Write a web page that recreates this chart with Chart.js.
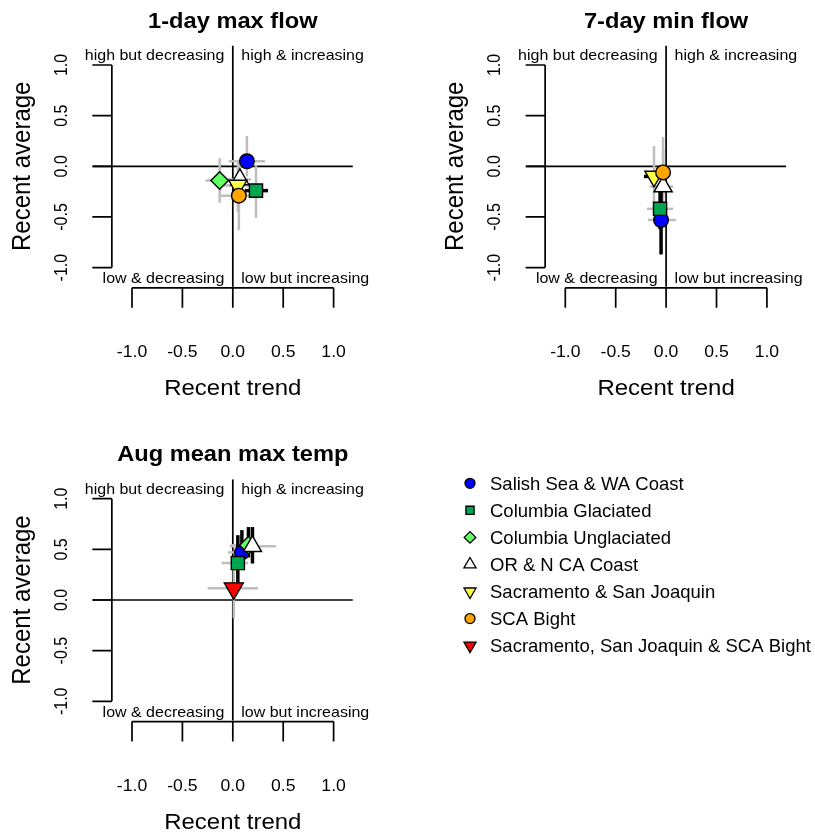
<!DOCTYPE html>
<html>
<head>
<meta charset="utf-8">
<script src="https://cdn.jsdelivr.net/npm/chart.js@4.4.1/dist/chart.umd.min.js"></script>
<style>
  html, body { margin: 0; padding: 0; background: #fff; }
  #wrap { position: relative; width: 815px; height: 833px; overflow: hidden; }
  canvas { position: absolute; }
</style>
</head>
<body>
<div id="wrap">
  <canvas id="p1" width="433" height="433" style="left:0;top:0"></canvas>
  <canvas id="p2" width="382" height="433" style="left:433px;top:0"></canvas>
  <canvas id="p3" width="815" height="400" style="left:0;top:433px"></canvas>
</div>
<script>
// regions (legend order = drawing order)
const regionNames = [
  "Salish Sea & WA Coast",
  "Columbia Glaciated",
  "Columbia Unglaciated",
  "OR & N CA Coast",
  "Sacramento & San Joaquin",
  "SCA Bight",
  "Sacramento, San Joaquin & SCA Bight",
];
const regionColors = ["#0000FF", "#00A550", "#66FF66", "#FFFFFF", "#FFFF44", "#FFA500", "#FF0000"];
const regionShapes = ["circle", "rect", "rectRot", "triangle", "triangle", "circle", "triangle"];
const regionRotation = [0, 0, 0, 0, 180, 0, 180];
const plotRadius = [7.3, 9.3, 8.8, 10.5, 10.5, 7.3, 11];
const legendRadius = [5, 5.8, 5.8, 7, 7, 5, 7];

const tickValues = [-1, -0.5, 0, 0.5, 1];
const tickLabels = ["-1.0", "-0.5", "0.0", "0.5", "1.0"];

// 1-day max flow
const maxFlowTrend   = [0.14, 0.23, -0.13, 0.07, 0.05, 0.06, null];
const maxFlowTrendLo = [-0.04, 0.12, -0.27, -0.05, -0.13, -0.14, null];
const maxFlowTrendHi = [0.32, 0.35, 0.00, 0.18, 0.20, 0.22, null];
const maxFlowAvg     = [0.05, -0.24, -0.14, -0.13, -0.19, -0.29, null];
const maxFlowAvgLo   = [-0.10, -0.51, -0.36, -0.30, -0.45, -0.63, null];
const maxFlowAvgHi   = [0.30, 0.01, 0.08, 0.02, 0.05, 0.03, null];

// 7-day min flow
const minFlowTrend   = [-0.05, -0.06, null, -0.03, -0.12, -0.03, null];
const minFlowTrendLo = [-0.18, -0.19, null, -0.16, -0.22, -0.10, null];
const minFlowTrendHi = [0.10, 0.07, null, 0.07, -0.05, 0.05, null];
const minFlowAvg     = [-0.53, -0.42, null, -0.20, -0.10, -0.06, null];
const minFlowAvgLo   = [-0.87, -0.62, null, -0.40, -0.35, -0.30, null];
const minFlowAvgHi   = [-0.25, -0.22, null, 0.16, 0.20, 0.29, null];

// Aug mean max temp
const augTempTrend   = [0.09, 0.05, 0.155, 0.195, null, null, 0.01];
const augTempTrendLo = [-0.05, -0.11, -0.02, -0.03, null, null, -0.25];
const augTempTrendHi = [0.14, 0.15, 0.25, 0.43, null, null, 0.25];
const augTempAvg     = [0.47, 0.365, 0.54, 0.53, null, null, 0.115];
const augTempAvgLo   = [0.30, 0.17, 0.42, 0.36, null, null, -0.18];
const augTempAvgHi   = [0.69, 0.64, 0.72, 0.72, null, null, 0.35];

// panel geometry (pixels inside a panel)
const X0 = 232.8, XS = 100.8, Y0 = 166.3, YS = 101.3;
const XMIN = -1.4, XMAX = 1.2, YMIN = -1.2, YMAX = 1.2;
const AXIS_POS = -1.2;
const FONT = '"Liberation Sans", Arial, sans-serif';

// text helper; sx widens glyphs a little like the original device did
function rText(ctx, str, x, y, font, align, angle, sx) {
  ctx.save();
  ctx.translate(x, y);
  ctx.scale(sx || 1, 1);
  if (angle) ctx.rotate(angle);
  ctx.font = font;
  ctx.textAlign = align;
  ctx.textBaseline = "alphabetic";
  ctx.fillText(str, 0, 0);
  ctx.restore();
}

function drawSymbol(ctx, i, x, y, r) {
  ctx.save();
  ctx.fillStyle = regionColors[i];
  ctx.strokeStyle = "#000";
  ctx.lineWidth = 1.3;
  const opts = { pointStyle: regionShapes[i], rotation: regionRotation[i], radius: r, borderWidth: 1.3 };
  Chart.helpers.drawPoint(ctx, opts, x, y);
  ctx.restore();
}

const rAxesPlugin = {
  id: "rAxes",
  afterDraw(chart, args, opts) {
    const ctx = chart.ctx;
    const px = (v) => chart.scales.x.getPixelForValue(v);
    const py = (v) => chart.scales.y.getPixelForValue(v);
    ctx.save();
    ctx.strokeStyle = "#000";
    ctx.fillStyle = "#000";
    ctx.lineWidth = 1.7;

    const ax = px(AXIS_POS);
    const ay = py(AXIS_POS);
    ctx.beginPath();
    ctx.moveTo(ax, py(-1));
    ctx.lineTo(ax, py(1));
    tickValues.forEach((v) => {
      ctx.moveTo(ax, py(v));
      ctx.lineTo(ax - 19.5, py(v));
    });
    ctx.moveTo(px(-1), ay);
    ctx.lineTo(px(1), ay);
    tickValues.forEach((v) => {
      ctx.moveTo(px(v), ay);
      ctx.lineTo(px(v), ay + 20);
    });
    ctx.stroke();

    tickValues.forEach((v, i) => {
      rText(ctx, tickLabels[i], ax - 44.8, py(v), "16px " + FONT, "center", -Math.PI / 2, 1.1);
      rText(ctx, tickLabels[i], px(v), ay + 69, "16px " + FONT, "center", 0, 1.1);
    });

    rText(ctx, "Recent trend", px(0), ay + 107, "21.8px " + FONT, "center", 0, 1.1);
    rText(ctx, "Recent average", ax - 81.8, py(0), "24px " + FONT, "center", -Math.PI / 2, 1.1);
    rText(ctx, opts.title, px(0), py(0) - 138.8, "bold 21.5px " + FONT, "center", 0, 1.1);

    const q = "14.8px " + FONT;
    rText(ctx, "high but decreasing", px(0) - 8.5, py(1.1) + 5.5, q, "right", 0, 1.08);
    rText(ctx, "high & increasing", px(0) + 8.5, py(1.1) + 5.5, q, "left", 0, 1.08);
    rText(ctx, "low & decreasing", px(0) - 8.5, py(-1.1) + 5.5, q, "right", 0, 1.08);
    rText(ctx, "low but increasing", px(0) + 8.5, py(-1.1) + 5.5, q, "left", 0, 1.08);

    if (opts.legend) {
      regionNames.forEach((name, i) => {
        const ly = opts.legendY + i * 27.05;
        drawSymbol(ctx, i, opts.legendX, ly, legendRadius[i]);
        ctx.fillStyle = "#000";
        rText(ctx, name, opts.legendX + 20, ly + 6.6, "18.5px " + FONT, "left", 0, 1);
      });
    }
    ctx.restore();
  },
};

function ciColor(lo, hi) {
  return lo > 0 || hi < 0 ? "#000000" : "#BEBEBE";
}

function buildPanel(id, title, trend, trendLo, trendHi, avg, avgLo, avgHi, dx, dy, legend) {
  const canvas = document.getElementById(id);
  const W = canvas.width, H = canvas.height;
  const datasets = [];

  // zero lines
  const line = (pts) => ({
    data: pts, showLine: true, borderColor: "#000", borderWidth: 1.7,
    pointRadius: 0, order: 300, clip: false,
  });
  datasets.push(line([{ x: XMIN + 0.01, y: 0 }, { x: XMAX - 0.01, y: 0 }]));
  datasets.push(line([{ x: 0, y: AXIS_POS + 0.01 }, { x: 0, y: YMAX - 0.01 }]));

  // interval bars
  trend.forEach((t, i) => {
    if (t === null) return;
    const hc = ciColor(trendLo[i], trendHi[i]);
    const vc = ciColor(avgLo[i], avgHi[i]);
    datasets.push({
      data: [{ x: trendLo[i], y: avg[i] }, { x: trendHi[i], y: avg[i] }],
      showLine: true, borderColor: hc, borderWidth: hc === "#000000" ? 3.5 : 2.5,
      pointRadius: 0, order: hc === "#000000" ? 100 : 200, clip: false,
    });
    datasets.push({
      data: [{ x: t, y: avgLo[i] }, { x: t, y: avgHi[i] }],
      showLine: true, borderColor: vc, borderWidth: vc === "#000000" ? 3.5 : 2.5,
      pointRadius: 0, order: vc === "#000000" ? 100 : 200, clip: false,
    });
  });

  // points
  trend.forEach((t, i) => {
    if (t === null) return;
    datasets.push({
      label: regionNames[i],
      data: [{ x: t, y: avg[i] }],
      pointStyle: regionShapes[i],
      pointRotation: regionRotation[i],
      pointRadius: plotRadius[i],
      backgroundColor: regionColors[i],
      borderColor: "#000",
      pointBackgroundColor: regionColors[i],
      pointBorderColor: "#000",
      pointBorderWidth: 1.4,
      order: 50 - i,
      clip: false,
    });
  });

  const left = X0 + dx + XS * XMIN;
  const right = W - (X0 + dx + XS * XMAX);
  const top = Y0 + dy - YS * YMAX;
  const bottom = H - (Y0 + dy - YS * YMIN);

  return new Chart(canvas, {
    type: "scatter",
    data: { datasets },
    options: {
      responsive: false,
      animation: false,
      devicePixelRatio: 1,
      events: [],
      layout: { padding: { left, right, top, bottom } },
      scales: {
        x: { type: "linear", min: XMIN, max: XMAX, display: false },
        y: { type: "linear", min: YMIN, max: YMAX, display: false },
      },
      plugins: {
        legend: { display: false },
        tooltip: { enabled: false },
        rAxes: { title, legend, legendX: 470, legendY: 483.3 - 433 },
      },
    },
    plugins: [rAxesPlugin],
  });
}

buildPanel("p1", "1-day max flow", maxFlowTrend, maxFlowTrendLo, maxFlowTrendHi,
  maxFlowAvg, maxFlowAvgLo, maxFlowAvgHi, 0, 0, false);
buildPanel("p2", "7-day min flow", minFlowTrend, minFlowTrendLo, minFlowTrendHi,
  minFlowAvg, minFlowAvgLo, minFlowAvgHi, 0.3, 0, false);
buildPanel("p3", "Aug mean max temp", augTempTrend, augTempTrendLo, augTempTrendHi,
  augTempAvg, augTempAvgLo, augTempAvgHi, 0, 0.7, true);
</script>
</body>
</html>
